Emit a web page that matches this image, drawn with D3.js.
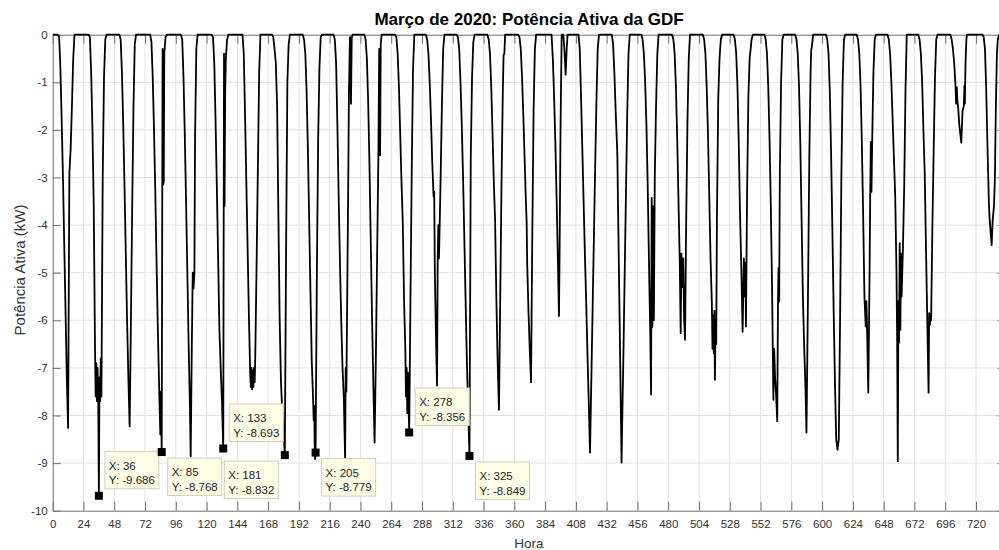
<!DOCTYPE html>
<html>
<head>
<meta charset="utf-8">
<script src="https://cdn.jsdelivr.net/npm/d3@7"></script>
<style>
body { margin: 0; background: #fff; }
text { font-family: "Liberation Sans", Arial, Helvetica, sans-serif; }
</style>
</head>
<body>
<div></div>
<script>
// potência por dia: pares [hora do dia, kW]
var dias = [
  [[0,0],[4,0],[5,-0.05],[6,-0.7],[7,-1.8],[8,-3.0],[9,-4.4],[10,-5.8],[11,-7.2],[12,-8.26],[13,-2.9],[14,-2.4],[15,-1.5],[16,-0.5],[17,0],[18,0]],
  [[3,0],[4,0],[5,-0.05],[6,-0.8],[7,-2.0],[8,-3.6],[9,-6.6],[9.5,-7.6],[10,-6.9],[10.5,-7.7],[11,-7.0],[11.5,-7.6],[12,-9.686],[12.5,-7.2],[13,-7.7],[13.5,-6.8],[14,-7.6],[15,-3.0],[16,-0.9],[17,-0.1],[18,0]],
  [[3,0],[4,0],[5,-0.1],[6,-0.8],[7,-1.9],[8,-3.2],[9,-4.6],[10,-6.0],[11,-7.2],[12,-8.23],[13,-6.0],[14,-3.6],[15,-1.5],[16,-0.2],[17,0],[18,0]],
  [[3,0],[4,0],[5,-0.15],[6,-0.9],[7,-2.0],[8,-3.3],[9,-4.8],[10,-6.2],[11,-7.4],[11.9,-8.4],[12.4,-7.5],[13,-8.768],[13.7,-0.3],[14.1,-3.15],[14.6,-3.1],[15,-0.4],[16,-0.05],[17,0],[18,0]],
  [[3,0],[4,0],[5,-0.1],[6,-0.9],[7,-2.1],[8,-3.5],[9,-5.0],[10,-6.5],[11,-7.8],[11.6,-8.86],[12.5,-6.5],[13.2,-5.0],[13.8,-5.33],[14.5,-5.0],[15,-2.2],[16,-0.3],[17,0],[18,0]],
  [[3,0],[4,0],[5,-0.05],[6,-0.6],[7,-1.8],[8,-3.2],[9,-4.7],[10,-6.2],[11,-7.0],[12,-7.7],[13,-8.693],[13.6,-0.4],[14,-3.6],[14.5,-1.2],[15,-0.5],[16,-0.1],[17,0],[18,0]],
  [[3,0],[4,0],[5,-0.4],[6,-1.7],[7,-3.1],[8,-4.5],[9,-5.9],[10,-7.1],[10.5,-7.4],[11,-7.0],[11.5,-7.45],[12,-7.05],[12.5,-7.4],[13,-7.0],[13.5,-7.3],[14,-6.7],[15,-4.8],[16,-2.8],[17,-0.8],[18,0]],
  [[3,0],[4,-0.05],[5,-0.3],[6,-0.6],[7,-1.5],[8,-3.8],[9,-6.0],[10,-7.3],[11,-7.9],[12,-8.3],[13,-8.832],[14,-4.5],[15,-1.0],[16,-0.2],[17,0],[18,0]],
  [[3,0],[4,-0.1],[5,-0.4],[6,-1.2],[7,-2.4],[8,-3.9],[9,-5.4],[10,-6.85],[11,-7.6],[11.5,-8.1],[12,-7.8],[12.3,-8.6],[12.6,-8.92],[13,-8.779],[14,-5.0],[15,-2.2],[16,-0.7],[17,-0.05],[18,0]],
  [[3,0],[4,-0.1],[5,-0.6],[6,-1.9],[7,-3.4],[8,-4.8],[9,-6.0],[10,-7.0],[11,-7.6],[12,-8.9],[12.5,-7.0],[13,-7.5],[14,-4.5],[14.5,-3.0],[15,-1.2],[15.8,-0.05],[16.6,-1.45],[17.2,-0.05],[18,0]],
  [[3,0],[4,-0.1],[5,-0.5],[6,-1.4],[7,-2.7],[8,-4.3],[9,-5.9],[10,-7.3],[11,-8.57],[12,-6.8],[13,-4.6],[14,-2.5],[14.6,-0.3],[15.3,-2.53],[15.8,-0.2],[16.5,0],[18,0]],
  [[3,0],[4,-0.05],[5,-0.4],[6,-1.1],[7,-2.1],[8,-3.1],[9,-3.95],[10,-5.6],[11,-6.65],[11.5,-7.6],[12,-7.0],[12.5,-7.95],[13,-7.1],[13.5,-7.8],[14,-8.356],[15,-5.5],[16,-2.8],[17,-0.7],[18,0]],
  [[3,0],[4,-0.1],[5,-0.4],[6,-1.0],[7,-1.8],[8,-2.7],[9,-3.4],[9.5,-3.3],[10,-5.0],[11,-6.5],[11.7,-7.37],[12.2,-4.8],[12.7,-4.0],[13.2,-4.7],[13.7,-4.1],[14.5,-3.0],[15.5,-1.5],[16.5,-0.3],[17.5,0],[18,0]],
  [[3,0],[4,-0.05],[5,-0.3],[6,-1.0],[7,-1.9],[8,-3.0],[9,-4.3],[10,-5.6],[11,-6.9],[12,-7.9],[13,-8.849],[14,-2.6],[15,-0.9],[16,-0.15],[17,0],[18,0]],
  [[3,0],[4,-0.1],[5,-0.4],[6,-1.1],[7,-2.1],[8,-3.1],[9,-3.93],[10,-5.6],[11,-6.9],[12,-7.88],[13,-5.5],[14,-3.1],[15,-1.2],[15.6,-0.43],[16.2,-0.4],[16.8,0],[18,0]],
  [[3,0],[4,-0.05],[5,-0.3],[6,-0.9],[7,-1.7],[8,-2.6],[9,-3.5],[9.6,-3.95],[10,-4.8],[11,-5.8],[12,-6.6],[13,-7.3],[14,-4.2],[15,-1.6],[16,-0.3],[17,0],[18,0]],
  [[3,0],[5,0],[6,-0.5],[7,-1.3],[8,-2.3],[9,-3.5],[10,-4.8],[10.8,-5.91],[11.3,-4.5],[12,-2.0],[12.9,0],[14.2,0],[15,-0.3],[16,-0.84],[16.8,-0.3],[17.5,0],[18,0]],
  [[2,0],[3,-0.3],[4,-1.3],[5,-2.4],[6,-3.5],[7,-4.6],[8,-5.6],[9,-6.7],[10,-7.7],[11,-8.78],[12,-7.3],[13,-5.8],[14,-4.3],[15,-2.8],[16,-1.4],[17,-0.3],[18,0]],
  [[3,0],[4,0],[5,-0.2],[6,-0.8],[7,-1.6],[8.3,-2.5],[9,-3.9],[10,-5.8],[11,-7.8],[11.6,-8.99],[12,-8.3],[13,-6.8],[14,-5.1],[15,-3.4],[16,-1.7],[17,-0.4],[18,0]],
  [[3,0],[4,-0.1],[5,-0.4],[6,-1.0],[7,-1.9],[8,-3.2],[9,-4.8],[10,-6.3],[10.6,-7.56],[11.1,-3.43],[11.6,-6.14],[12.2,-3.6],[12.8,-6.0],[13.5,-3.0],[14.5,-1.5],[15.5,-0.4],[16.5,0],[18,0]],
  [[3,0],[4,-0.1],[5,-0.4],[6,-1.1],[7,-2.2],[8,-3.5],[9,-4.8],[9.7,-6.27],[10.3,-4.6],[11,-5.3],[11.7,-4.7],[12.4,-6.0],[13.1,-6.41],[14,-3.9],[15,-1.8],[16,-0.5],[17,0],[18,0]],
  [[3,0],[4,-0.1],[5,-0.4],[6,-1.1],[7,-2.1],[8,-3.4],[9,-4.7],[10,-5.64],[10.5,-6.6],[11,-5.9],[11.5,-6.69],[12,-5.8],[12.4,-7.25],[12.9,-6.0],[13.4,-6.5],[14,-3.8],[15,-1.34],[16,-0.5],[17,-0.1],[18,0]],
  [[3,0],[4,-0.1],[5,-0.4],[6,-1.1],[7,-2.3],[8,-3.8],[9,-4.9],[10,-6.24],[11,-4.7],[11.8,-5.5],[12.2,-4.8],[12.6,-6.13],[13.5,-3.3],[14.5,-1.3],[15.5,-0.49],[16.2,-0.32],[17,-0.1],[18,0]],
  [[3,0],[4,-0.1],[5,-0.4],[6,-1.1],[7,-2.2],[8,-3.6],[9,-5.4],[10,-7.67],[10.6,-6.6],[11.3,-7.2],[12,-7.5],[13,-8.12],[13.6,-5.6],[14,-4.9],[14.5,-5.6],[15,-3.0],[16,-1.0],[17,-0.1],[18,0]],
  [[3,0],[4,-0.1],[5,-0.4],[6,-1.1],[7,-2.3],[8,-3.9],[9,-5.5],[10,-6.55],[11,-7.4],[11.8,-8.36],[13,-5.4],[14,-2.6],[15,-0.8],[15.5,-0.32],[16,-0.25],[17,0],[18,0]],
  [[3,0],[4,-0.1],[5,-0.4],[6,-1.2],[7,-2.5],[8,-4.1],[9,-5.8],[10,-7.3],[11,-8.5],[12,-8.72],[13,-8.5],[14,-6.0],[15,-3.0],[16,-1.0],[17,-0.1],[18,0]],
  [[3,0],[4,-0.1],[5,-0.4],[6,-1.1],[7,-2.3],[8,-3.8],[9,-5.5],[10,-6.13],[10.5,-5.6],[11,-6.1],[12,-7.52],[13,-5.0],[13.5,-3.37],[14,-2.25],[14.5,-3.3],[15,-2.3],[16,-0.8],[17,-0.1],[18,0]],
  [[3,0],[4,-0.1],[5,-0.4],[6,-1.0],[7,-1.8],[8,-2.6],[9,-3.4],[10,-5.0],[10.5,-6.4],[11,-8.96],[11.5,-5.6],[12,-6.47],[12.5,-4.38],[13,-6.2],[13.5,-4.6],[14,-5.5],[15,-4.5],[16,-3.2],[17,-1.2],[18,0]],
  [[3,0],[4,-0.1],[5,-0.4],[6,-1.0],[7,-2.0],[8,-2.9],[9,-4.5],[10,-6.0],[11,-7.52],[11.5,-5.85],[12,-6.1],[12.5,-5.9],[13,-6.0],[14,-4.0],[15,-2.4],[16,-0.9],[17,-0.1],[18,0]],
  [[3,0],[4,0],[5,-0.1],[6,-0.3],[7,-0.6],[8,-1.07],[8.5,-1.45],[9,-1.1],[9.5,-1.4],[10,-1.5],[11,-1.9],[12.5,-2.27],[13.5,-1.6],[14.5,-1.5],[15,-1.07],[15.3,-1.45],[15.8,-0.6],[16.5,-0.1],[17,0],[18,0]],
  [[3,0],[5,0],[6,-0.05],[7,-0.3],[8,-1.2],[9,-2.4],[10,-3.5],[10.5,-3.82],[11,-4.0],[12.2,-4.42],[13,-3.9],[14,-3.6],[14.7,-3.05],[15.5,-1.5],[16.3,-0.4],[17,-0.1],[18,0]]
]

var tipX = [36, 85, 133, 181, 205, 278, 325]
var tipY = [-9.686, -8.768, -8.693, -8.832, -8.779, -8.356, -8.849]
var tipLado = ["ne", "se", "ne", "sw", "se", "ne", "se"]

var xTicks = [0,24,48,72,96,120,144,168,192,216,240,264,288,312,336,360,384,408,432,456,480,504,528,552,576,600,624,648,672,696,720]
var yTicks = [0,-1,-2,-3,-4,-5,-6,-7,-8,-9,-10]

var serie = []
dias.forEach(function(dia, d){
  dia.forEach(function(p){ serie.push({x: 24*d + p[0], y: p[1]}) })
})

var canvas = d3.select("div")
.append("svg")
.attr("width", 999)
.attr("height", 550)

var x = d3.scaleLinear().domain([0, 743]).range([52.7, 1005.5])
var y = d3.scaleLinear().domain([-10, 0]).range([510.7, 34.7])

// grade
canvas.append("g").selectAll("line")
.data(xTicks.slice(1))
.enter().append("line")
.attr("x1", d => x(d)).attr("x2", d => x(d))
.attr("y1", y(0)).attr("y2", y(-10))
.attr("stroke", "#e2e2e2")

canvas.append("g").selectAll("line")
.data(yTicks.slice(1, -1))
.enter().append("line")
.attr("x1", x(0)).attr("x2", x(743))
.attr("y1", d => y(d)).attr("y2", d => y(d))
.attr("stroke", "#e2e2e2")

// eixos
var eixoCor = "#6f6f6f"
function estilo(g, semTexto){
  g.select(".domain").attr("stroke", eixoCor)
  g.selectAll(".tick line").attr("stroke", eixoCor)
  g.selectAll(".tick text").attr("fill", "#333").style("font-size", "11.5px")
  if (semTexto) g.selectAll(".tick text").remove()
}

canvas.append("g")
.attr("transform", "translate(0," + y(-10) + ")")
.call(d3.axisBottom(x).tickValues(xTicks).tickSizeInner(-9).tickSizeOuter(0).tickPadding(9))
.call(g => estilo(g, false))

canvas.append("g")
.attr("transform", "translate(0," + y(0) + ")")
.call(d3.axisTop(x).tickValues(xTicks).tickSizeInner(-9).tickSizeOuter(0))
.call(g => estilo(g, true))

canvas.append("g")
.attr("transform", "translate(" + x(0) + ",0)")
.call(d3.axisLeft(y).tickValues(yTicks).tickSizeInner(-8).tickSizeOuter(0).tickPadding(5).tickFormat(d3.format("d")))
.call(g => estilo(g, false))

canvas.append("g")
.attr("transform", "translate(" + x(743) + ",0)")
.call(d3.axisRight(y).tickValues(yTicks).tickSizeInner(-8).tickSizeOuter(0))
.call(g => estilo(g, true))

canvas.selectAll(".tick text").text(function(){ return this.textContent.replace("\u2212", "-") })

// curva
canvas.append("clipPath").attr("id", "area")
.append("rect").attr("x", x(0)).attr("y", 30).attr("width", x(743) - x(0)).attr("height", 485)

canvas.append("path")
.datum(serie)
.attr("clip-path", "url(#area)")
.attr("fill", "none")
.attr("stroke", "#000")
.attr("stroke-width", 1.8)
.attr("stroke-linejoin", "round")
.attr("d", d3.line().x(d => x(d.x)).y(d => y(d.y)))

// textos
canvas.append("text")
.attr("x", 529).attr("y", 25)
.attr("text-anchor", "middle")
.style("font-size", "17px").style("font-weight", "bold").attr("fill", "#000")
.text("Março de 2020: Potência Ativa da GDF")

canvas.append("text")
.attr("x", 529).attr("y", 547.5)
.attr("text-anchor", "middle")
.style("font-size", "13.5px").attr("fill", "#333")
.text("Hora")

canvas.append("text")
.attr("transform", "translate(24.5,270) rotate(-90)")
.attr("text-anchor", "middle")
.style("font-size", "15px").attr("fill", "#333")
.text("Potência Ativa (kW)")

// data tips
tipX.forEach(function(hx, i){
  var mx = x(hx), my = y(tipY[i])
  var g = canvas.append("g")
  var t1 = g.append("text").style("font-size", "11.5px").attr("fill", "#262626").text("X: " + hx)
  var t2 = g.append("text").style("font-size", "11.5px").attr("fill", "#262626").text("Y: " + tipY[i])
  var w = Math.max(t1.node().getComputedTextLength(), t2.node().getComputedTextLength()) + 8
  var h = 37.5
  var bx = tipLado[i] == "sw" ? mx - 6.5 - w : mx + 6
  var by = tipLado[i] == "ne" ? my - 7 - h : my + 6
  g.insert("rect", "text")
  .attr("x", bx).attr("y", by).attr("width", w).attr("height", h)
  .attr("fill", "#fdfde6").attr("stroke", "#cfcfbd")
  t1.attr("x", bx + 4).attr("y", by + 18.3)
  t2.attr("x", bx + 4).attr("y", by + 32.6)
  canvas.append("rect")
  .attr("x", mx - 4).attr("y", my - 4).attr("width", 8).attr("height", 8)
  .attr("fill", "#000")
})
</script>
</body>
</html>
